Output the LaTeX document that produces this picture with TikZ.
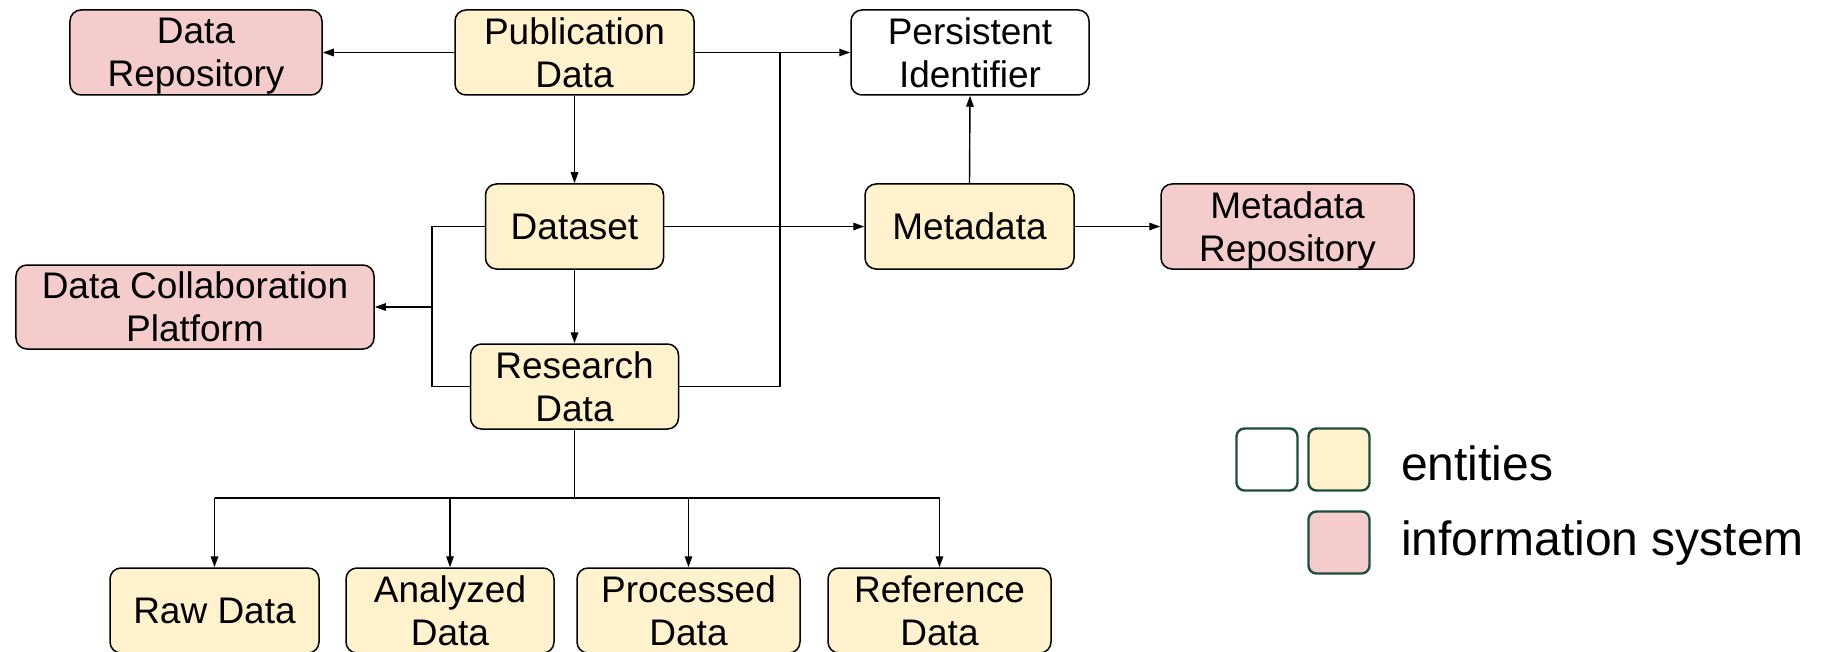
\documentclass[tikz,border=0pt]{standalone}
\usepackage{fontspec}
\setmainfont{Liberation Sans}
\usetikzlibrary{arrows.meta}
\definecolor{entfill}{HTML}{FFF2CC}
\definecolor{sysfill}{HTML}{F4CCCC}
\definecolor{legline}{HTML}{1E4D3E}
\tikzset{
  box/.style={draw=black, line width=1.5bp, rounded corners=11bp, align=center,
    inner sep=0pt, font=\fontsize{37bp}{43bp}\selectfont, minimum height=85bp},
  ent/.style={box, fill=entfill},
  sys/.style={box, fill=sysfill},
  plain/.style={box, fill=white},
  link/.style={line width=1.4bp, draw=black},
  arr/.style={link, -{Triangle[length=11bp,width=7.5bp]}},
  legbox/.style={draw=legline, line width=2.4bp, rounded corners=8bp,
    minimum width=61bp, minimum height=62bp, inner sep=0pt},
  legtext/.style={anchor=west, inner sep=0pt, font=\fontsize{48bp}{54bp}\selectfont}
}
\begin{document}
\begin{tikzpicture}[x=1bp, y=-1bp]
\useasboundingbox (0,0) rectangle (1831,652);
\clip (0,0) rectangle (1831,652);

% top row
\node[sys,   minimum width=252bp] (datarepo) at (196,52.5)   {Data\\\smash{Repository}};
\node[ent,   minimum width=239bp] (pub)      at (574.5,52.5) {Publication\\Data};
\node[plain, minimum width=238bp] (pid)      at (970,52.5)   {Persistent\\Identifier};

% middle rows
\node[ent, minimum width=178bp] (dataset)  at (574.5,226.5)  {Dataset};
\node[ent, minimum width=209bp] (metadata) at (969.5,226.5)  {Metadata};
\node[sys, minimum width=253bp] (metarepo) at (1287.5,226.5) {Metadata\\\smash{Repository}};
\node[sys, minimum width=358bp, minimum height=84bp] (dcp) at (195,307) {Data Collaboration\\Platform};
\node[ent, minimum width=208bp] (research) at (574.5,386.5)  {Research\\Data};

% bottom row
\node[ent, minimum width=209bp] (raw)       at (214.5,610.5) {Raw Data};
\node[ent, minimum width=208bp] (analyzed)  at (450,610.5)   {Analyzed\\Data};
\node[ent, minimum width=223bp] (processed) at (688.5,610.5) {Processed\\Data};
\node[ent, minimum width=223bp] (reference) at (939.5,610.5) {Reference\\Data};

% junction points
\coordinate (jright) at (780,52.5);
\coordinate (jleftT) at (432,226.5);
\coordinate (jleftB) at (432,386.5);
\coordinate (jleftM) at (432,307);
\coordinate (jbus)   at (574.5,498);
\coordinate (busL)   at (214.5,498);
\coordinate (busR)   at (939.5,498);

% publication data links
\draw[arr] (pub.west) -- (datarepo.east);
\draw[arr] (pub.east) -- (pid.west);
\draw[arr] (pub.south) -- (dataset.north);
\draw[link] (research.east) -| (jright);

% dataset links
\draw[arr] (dataset.east) -- (metadata.west);
\draw[arr] (dataset.south) -- (research.north);
\draw[link] (dataset.west) -- (jleftT) -- (jleftB) -- (research.west);
\draw[arr] (jleftM) -- (dcp.east);

% metadata links
\draw[arr] (metadata.north) -- (pid.south);
\draw[arr] (metadata.east) -- (metarepo.west);

% research data subtypes
\draw[link] (research.south) -- (jbus);
\draw[link] (busL) -- (busR);
\draw[arr] (busL) -- (raw.north);
\draw[arr] (analyzed.north |- jbus) -- (analyzed.north);
\draw[arr] (processed.north |- jbus) -- (processed.north);
\draw[arr] (busR) -- (reference.north);

% legend
\node[legbox, fill=white]   (legA) at (1267,459.5) {};
\node[legbox, fill=entfill] (legB) at (1339,459.5) {};
\node[legbox, fill=sysfill] (legC) at (1339,542.5) {};
\node[legtext] (legE) at (1401,463) {entities};
\node[legtext] (legI) at (1401,543) {information system};
\end{tikzpicture}
\end{document}
